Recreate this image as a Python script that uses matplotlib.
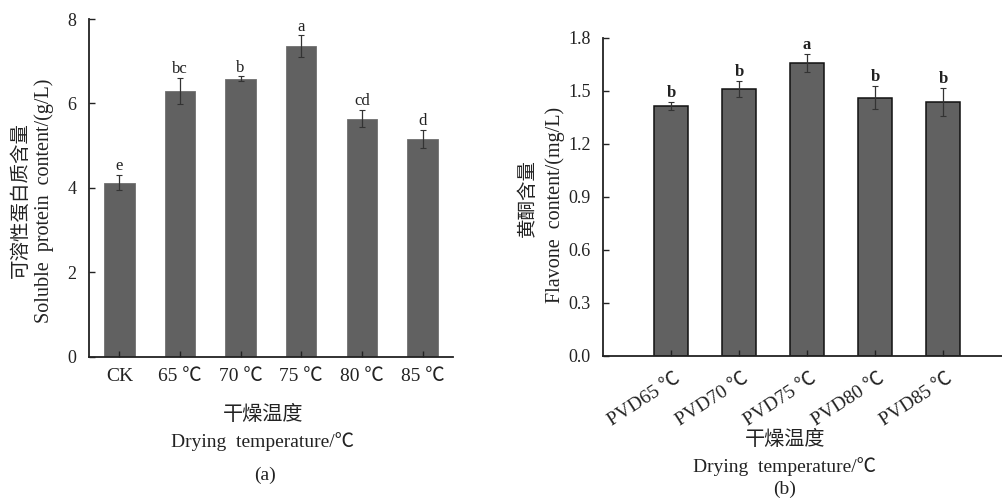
import numpy as np
import matplotlib.pyplot as plt
from matplotlib.transforms import ScaledTranslation

plt.rcParams['font.family'] = ['Liberation Serif', 'Noto Sans CJK SC', 'DejaVu Sans']

# (a) soluble protein
protein_labels = ['CK', '65 ℃', '70 ℃', '75 ℃', '80 ℃', '85 ℃']
protein_mean = [4.12, 6.29, 6.58, 7.35, 5.64, 5.16]
protein_err = [0.18, 0.31, 0.06, 0.26, 0.21, 0.22]
protein_sig = ['e', 'bc', 'b', 'a', 'cd', 'd']

# (b) flavone
flavone_labels = ['PVD65 ℃', 'PVD70 ℃', 'PVD75 ℃', 'PVD80 ℃', 'PVD85 ℃']
flavone_mean = [1.414, 1.510, 1.655, 1.461, 1.437]
flavone_err = [0.023, 0.047, 0.051, 0.064, 0.077]
flavone_sig = ['b', 'b', 'a', 'b', 'b']

W, H = 1003, 499
fig = plt.figure(figsize=(W / 100, H / 100), dpi=100)

def px(x, y):
    return x / W, 1 - y / H

bar_color = '#616161'
text_color = '#222222'


def style_axes(ax):
    for s in ['top', 'right']:
        ax.spines[s].set_visible(False)
    for s in ['left', 'bottom']:
        ax.spines[s].set_linewidth(1.3)
        ax.spines[s].set_color(text_color)
    ax.tick_params(direction='in', length=4, width=1, colors=text_color, labelcolor=text_color)


# ---- panel (a)
ax1 = fig.add_axes([89 / W, 1 - 356.7 / H, (453 - 89) / W, (356.7 - 19) / H])
x1 = np.arange(len(protein_labels))
ax1.bar(x1, protein_mean, width=0.5, color=bar_color, edgecolor='#707070', linewidth=0.6)
ax1.errorbar(x1, protein_mean, yerr=protein_err, fmt='none', ecolor='#333333',
             elinewidth=0.9, capsize=2, capthick=0.8)
for xi, m, e, s in zip(x1, protein_mean, protein_err, protein_sig):
    ax1.text(xi, m + e + 0.02, s, ha='center', va='bottom', fontsize=12, color=text_color)
ax1.set_xlim(-0.5, 5.5)
ax1.set_ylim(0, 8)
ax1.set_yticks([0, 2, 4, 6, 8])
ax1.set_xticks(x1)
ax1.set_xticklabels(protein_labels, fontsize=14)
ax1.tick_params(axis='y', labelsize=13, pad=9)
ax1.tick_params(axis='x', pad=8)
style_axes(ax1)

fig.text(*px(20, 200), '可溶性蛋白质含量', rotation=90, ha='center', va='center',
         fontsize=14, color=text_color)
fig.text(*px(44, 201), 'Soluble  protein  content/(g/L)', rotation=90, ha='center',
         va='center', fontsize=14.5, color=text_color)
fig.text(*px(263, 415), '干燥温度', ha='center', va='center', fontsize=14.5, color=text_color)
fig.text(*px(263, 442), 'Drying  temperature/℃', ha='center', va='center', fontsize=14,
         color=text_color)
fig.text(*px(265, 475), '(a)', ha='center', va='center', fontsize=14, color=text_color)

# ---- panel (b)
ax2 = fig.add_axes([603 / W, 1 - 356 / H, (W - 603) / W, (356 - 37.7) / H])
x2 = np.arange(len(flavone_labels))
ax2.bar(x2, flavone_mean, width=0.51, color=bar_color, edgecolor='#111111', linewidth=1.1)
ax2.errorbar(x2, flavone_mean, yerr=flavone_err, fmt='none', ecolor='#333333',
             elinewidth=0.9, capsize=2, capthick=0.8)
for xi, m, e, s in zip(x2, flavone_mean, flavone_err, flavone_sig):
    ax2.text(xi, m + e + 0.006, s, ha='center', va='bottom', fontsize=12,
             fontweight='bold', color=text_color)
ax2.set_xlim(-1, 4.88)
ax2.set_ylim(0, 1.8)
ax2.set_yticks([0, 0.3, 0.6, 0.9, 1.2, 1.5, 1.8])
ax2.set_yticklabels(['0.0', '0.3', '0.6', '0.9', '1.2', '1.5', '1.8'])
ax2.set_xticks(x2)
ax2.set_xticklabels([])
# slanted category labels, anchored a little right of and below each tick
lab_tr = ax2.get_xaxis_transform() + ScaledTranslation(8 / 100, -21 / 100, fig.dpi_scale_trans)
for xi, lab in zip(x2, flavone_labels):
    ax2.text(xi, 0, lab, transform=lab_tr, rotation=33, rotation_mode='anchor',
             ha='right', va='center', fontsize=14, color=text_color)
ax2.tick_params(axis='y', labelsize=13, pad=9)
style_axes(ax2)

fig.text(*px(528, 198), '黄酮含量', rotation=90, ha='center', va='center',
         fontsize=14, color=text_color)
fig.text(*px(555, 205), 'Flavone  content/(mg/L)', rotation=90, ha='center',
         va='center', fontsize=14.5, color=text_color)
fig.text(*px(785, 440), '干燥温度', ha='center', va='center', fontsize=14.5, color=text_color)
fig.text(*px(785, 467), 'Drying  temperature/℃', ha='center', va='center', fontsize=14,
         color=text_color)
fig.text(*px(785, 489), '(b)', ha='center', va='center', fontsize=14, color=text_color)

fig.savefig('out.png', dpi=100, facecolor='white')
